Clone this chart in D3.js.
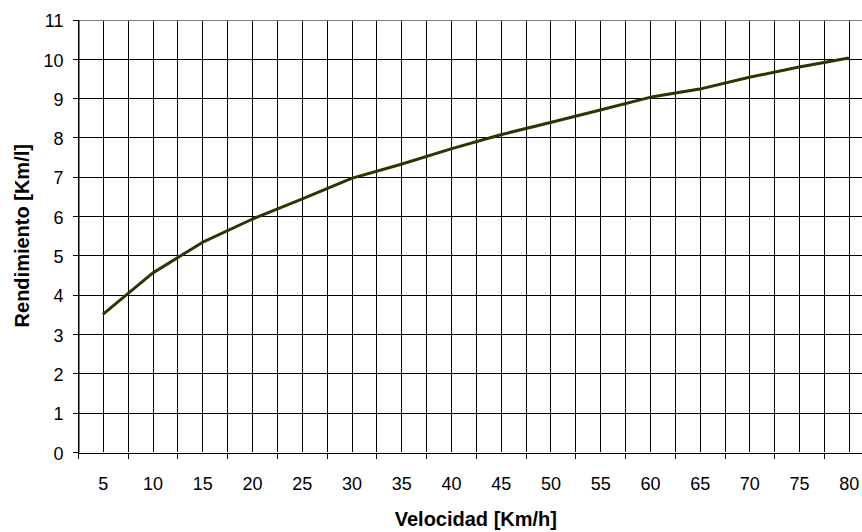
<!DOCTYPE html>
<html>
<head>
<meta charset="utf-8">
<script src="https://cdn.jsdelivr.net/npm/d3@7"></script>
<style>
  body { margin: 0; background: #fff; }
  svg { display: block; font-family: "Liberation Sans", Arial, sans-serif; }
</style>
</head>
<body>
<svg id="chart"></svg>
<script>
const velocidad = [5, 10, 15, 20, 25, 30, 35, 40, 45, 50, 55, 60, 65, 70, 75, 80];
const rendimiento = [3.5, 4.55, 5.33, 5.92, 6.43, 6.96, 7.32, 7.71, 8.07, 8.38, 8.7, 9.02, 9.23, 9.53, 9.79, 10.02];
const yTicks = [0, 1, 2, 3, 4, 5, 6, 7, 8, 9, 10, 11];

const width = 862;
const height = 532;
const svg = d3.select("#chart")
              .attr("width", width)
              .attr("height", height);

// plot area runs past the right edge of the picture, like the original
const plot = ({left: 78, right: 873.7, top: 19.5, bottom: 452});

// category axis: each speed sits in the middle of a 5-wide band
const xScale = d3.scaleLinear()
                 .domain([velocidad[0] - 2.5, velocidad[velocidad.length - 1] + 2.5])
                 .range([plot.left, plot.right]);
const yScale = d3.scaleLinear()
                 .domain([0, 11])
                 .range([plot.bottom, plot.top]);

const boundaries = velocidad.map(v => v - 2.5).concat([velocidad[velocidad.length - 1] + 2.5]);

// vertical gridlines: band edges and band centres
const grid = svg.append("g").attr("shape-rendering", "crispEdges");
grid.selectAll(".vgrid")
    .data(boundaries.concat(velocidad))
    .enter()
    .append("line")
      .attr("x1", d => Math.round(xScale(d)) + 0.5)
      .attr("x2", d => Math.round(xScale(d)) + 0.5)
      .attr("y1", plot.top)
      .attr("y2", plot.bottom)
      .attr("stroke", "#000");

// horizontal gridlines
grid.selectAll(".hgrid")
    .data(yTicks.slice(1))
    .enter()
    .append("line")
      .attr("x1", plot.left)
      .attr("x2", width)
      .attr("y1", d => Math.round(yScale(d)) + 0.5)
      .attr("y2", d => Math.round(yScale(d)) + 0.5)
      .attr("stroke", d => d === 11 ? "#808080" : "#000")
      .attr("stroke-width", d => d === 11 ? 1.5 : 1);

// y axis
const yAxis = svg.append("g")
                 .attr("transform", `translate(${plot.left + 0.5},0)`)
                 .call(d3.axisLeft(yScale).tickValues(yTicks).tickSize(6).tickPadding(9).tickSizeOuter(0));
yAxis.select(".domain").attr("stroke", "#000");
yAxis.selectAll(".tick line").attr("stroke", "#000").attr("shape-rendering", "crispEdges");
yAxis.selectAll("text").attr("font-size", 18).attr("fill", "#000")
     .attr("font-family", "Liberation Sans, Arial, sans-serif").attr("dy", "0.4em");

// x axis ticks on band edges
const xTickAxis = svg.append("g")
                     .attr("transform", `translate(0,${Math.round(plot.bottom) + 0.5})`)
                     .call(d3.axisBottom(xScale).tickValues(boundaries).tickSize(6).tickFormat("").tickSizeOuter(0));
xTickAxis.select(".domain").attr("stroke", "#000").attr("shape-rendering", "crispEdges");
xTickAxis.selectAll(".tick line").attr("stroke", "#000").attr("shape-rendering", "crispEdges");

// x labels on band centres
const xLabelAxis = svg.append("g")
                      .attr("transform", `translate(0,${plot.bottom})`)
                      .call(d3.axisBottom(xScale).tickValues(velocidad).tickSize(0).tickPadding(25));
xLabelAxis.select(".domain").remove();
xLabelAxis.selectAll("text").attr("font-size", 18).attr("fill", "#000")
          .attr("font-family", "Liberation Sans, Arial, sans-serif");

// line
const line = d3.line()
               .x((d, i) => xScale(velocidad[i]))
               .y(d => yScale(d));
svg.append("path")
   .datum(rendimiento)
   .attr("fill", "none")
   .attr("stroke", "#333300")
   .attr("stroke-width", 3)
   .attr("stroke-linejoin", "round")
   .attr("d", line);

// titles
svg.append("text")
   .attr("x", (plot.left + plot.right) / 2)
   .attr("y", 526)
   .attr("text-anchor", "middle")
   .attr("font-size", 20)
   .attr("font-weight", "bold")
   .text("Velocidad [Km/h]");

svg.append("text")
   .attr("transform", `translate(29,${(plot.top + plot.bottom) / 2}) rotate(-90)`)
   .attr("text-anchor", "middle")
   .attr("font-size", 20)
   .attr("font-weight", "bold")
   .text("Rendimiento [Km/l]");
</script>
</body>
</html>
